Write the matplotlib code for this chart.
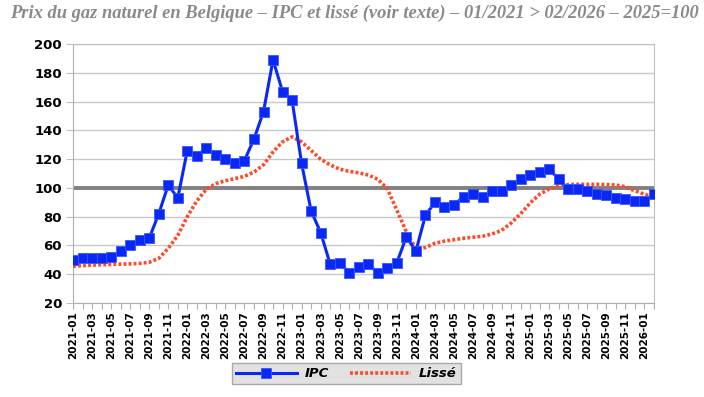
import numpy as np
import matplotlib
matplotlib.use('Agg')
import matplotlib.pyplot as plt

# Data (2021-01 .. 2026-02)
months = [f'{y}-{m:02d}' for y in range(2021, 2027) for m in range(1, 13)][:62]

ipc = [50, 51, 51, 51, 52, 56, 60, 64, 65, 82, 102, 93,
       126, 122, 128, 123, 120, 117, 119, 134, 153, 189, 167, 161,
       117, 84, 69, 47, 48, 41, 45, 47, 41, 44, 48, 66,
       56, 81, 90, 87, 88, 94, 96, 94, 98, 98, 102, 106,
       109, 111, 113, 106, 99, 99, 98, 96, 95, 93, 92, 91,
       91, 96]

lisse = [45.5, 46, 46.3, 46.6, 46.8, 47, 47.2, 47.5, 48.3, 51, 58, 67,
         80, 91, 99, 103, 105, 106.5, 108, 111, 116, 125, 132, 135.5,
         132, 126, 120, 116, 113, 111.5, 110.5, 109, 106, 99.5, 84.5, 69.5,
         57.5, 58.5, 61.5, 63, 64, 65, 65.7, 66.4, 68, 70.5, 75.6, 82,
         89.5, 95.6, 99.3, 101.5, 102.3, 102.5, 102.5, 102.5, 102.3, 102,
         100.8, 98, 95.6, 93.5]

x = np.arange(len(months))

fig = plt.figure(figsize=(7.04, 3.97), dpi=100)
ax = fig.add_axes([0.1037, 0.2368, 0.8253, 0.6522])

ax.set_ylim(20, 200)
ax.set_xlim(0, len(months) - 1)
ax.set_yticks(range(20, 201, 20))
ax.grid(axis='y', color='#c8c8c8', lw=1.0)
ax.set_axisbelow(True)

ax.axhline(100, color='#808080', lw=2.8, zorder=2)
ax.plot(x, lisse, color='#ff4a2a', lw=2.6, ls=(0, (0.8, 0.6)), zorder=3,
        label='Lissé', solid_capstyle='butt', dash_capstyle='butt')
ax.plot(x, ipc, color='#0a28f5', lw=2.2, marker='s', ms=6.5, zorder=4,
        label='IPC', markeredgecolor='#3a55ff', markeredgewidth=0.6)

ax.set_xticks(x)
ax.set_xticklabels([m if i % 2 == 0 else '' for i, m in enumerate(months)],
                   rotation=90, fontsize=7.5, fontweight='bold',
                   family='DejaVu Sans')
ax.tick_params(axis='x', length=4, color='#b0b0b0', pad=2)
ax.tick_params(axis='y', length=5, color='#c0c0c0', labelsize=9.5, pad=3)
for lab in ax.get_yticklabels():
    lab.set_fontweight('bold')

for side in ['left', 'bottom', 'right', 'top']:
    ax.spines[side].set_color('#c0c0c0')
ax.spines['left'].set_color('#b0b0b0')
ax.spines['bottom'].set_color('#b0b0b0')

h, l = ax.get_legend_handles_labels()
leg = fig.legend(h[::-1], l[::-1], loc='center', bbox_to_anchor=(0.492, 0.0585),
                 ncol=2, frameon=True, fancybox=False, handlelength=4.6,
                 handletextpad=0.6, columnspacing=1.6, borderpad=0.3,
                 prop={'weight': 'bold', 'style': 'italic', 'size': 9.5})
leg.get_frame().set_facecolor('#e2e2e2')
leg.get_frame().set_edgecolor('#a8a8a8')
leg.get_frame().set_alpha(1)

fig.text(0.503, 0.966, 'Prix du gaz naturel en Belgique – IPC et lissé (voir texte) – 01/2021 > 02/2026 – 2025=100',
         ha='center', va='center', fontsize=13.3, family='Liberation Serif',
         style='italic', fontweight='bold', color='#8a8a8a')

fig.savefig('out.png', dpi=100)
